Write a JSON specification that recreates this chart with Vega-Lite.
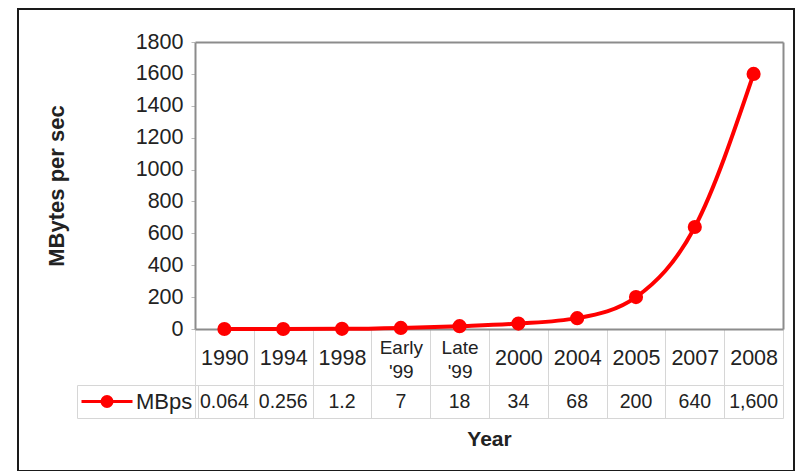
{
  "$schema": "https://vega.github.io/schema/vega-lite/v6.json",
  "width": 776,
  "height": 462,
  "autosize": {"type": "none"},
  "padding": {"left": 18, "top": 9, "right": 6, "bottom": 0},
  "background": "white",
  "view": {"stroke": "#1a1a1a", "strokeWidth": 2, "fill": "white"},
  "config": {"font": "Liberation Sans"},
  "data": {
    "values": [
      {"cat": "1990", "mbps": 0.064, "series": "MBps"},
      {"cat": "1994", "mbps": 0.256, "series": "MBps"},
      {"cat": "1998", "mbps": 1.2, "series": "MBps"},
      {"cat": "Early '99", "mbps": 7, "series": "MBps"},
      {"cat": "Late '99", "mbps": 18, "series": "MBps"},
      {"cat": "2000", "mbps": 34, "series": "MBps"},
      {"cat": "2004", "mbps": 68, "series": "MBps"},
      {"cat": "2005", "mbps": 200, "series": "MBps"},
      {"cat": "2007", "mbps": 640, "series": "MBps"},
      {"cat": "2008", "mbps": 1600, "series": "MBps"}
    ]
  },
  "resolve": {
    "scale": {"y": "independent"},
    "axis": {"x": "independent", "y": "independent"}
  },
  "layer": [
    {
      "mark": {"type": "line", "interpolate": "monotone", "strokeWidth": 4},
      "encoding": {
        "x": {
          "field": "cat", "type": "nominal", "sort": null,
          "scale": {"range": [177, 765], "paddingInner": 0, "paddingOuter": 0},
          "axis": {
            "orient": "bottom", "offset": -142, "title": null, "grid": false,
            "domainColor": "#8c8c8c", "domainWidth": 2,
            "tickBand": "extent", "tickSize": 56, "tickColor": "#d6d6d6", "tickWidth": 1,
            "labelAngle": 0, "labelBaseline": "middle",
            "labelPadding": {"condition": {"test": "indexof(datum.value + '', ' ') > 0", "value": -38}, "value": -27},
            "labelFontSize": {"condition": {"test": "indexof(datum.value + '', ' ') > 0", "value": 19}, "value": 21.5},
            "labelLineHeight": 24, "labelColor": "#222", "labelOverlap": false,
            "labelExpr": "indexof(datum.label + '', ' ') > 0 ? split(datum.label + '', ' ') : datum.label"
          }
        },
        "y": {
          "field": "mbps", "type": "quantitative",
          "scale": {"domain": [0, 1800], "range": [320, 33], "nice": false},
          "axis": {
            "orient": "left", "offset": -177, "grid": false,
            "values": [0, 200, 400, 600, 800, 1000, 1200, 1400, 1600, 1800], "format": "d",
            "domainColor": "#8c8c8c", "domainWidth": 2,
            "tickColor": "#bbbbbb", "tickSize": 4, "labelPadding": 8,
            "labelFontSize": 21.5, "labelColor": "#222",
            "title": "MBytes per sec", "titleFontSize": 22, "titleFontWeight": "bold",
            "titleColor": "#222", "titlePadding": 67
          }
        },
        "color": {
          "field": "series", "type": "nominal",
          "scale": {"range": ["#ff0000"]},
          "legend": {
            "orient": "none", "legendX": 59, "legendY": 376, "title": null,
            "symbolType": "M-2.55,0H2.55M-0.5,0A0.5,0.5,0,1,1,0.5,0A0.5,0.5,0,1,1,-0.5,0",
            "symbolSize": 400, "symbolOffset": 13.5, "symbolStrokeWidth": 3,
            "symbolFillColor": "#ff0000", "symbolStrokeColor": "#ff0000",
            "labelFontSize": 22, "labelColor": "#222", "labelOffset": 17.5,
            "strokeColor": "#d6d6d6", "padding": 5,
            "encode": {
              "symbols": {
                "update": {
                  "fill": {"value": "#ff0000"},
                  "stroke": {"value": "#ff0000"},
                  "strokeWidth": {"value": 3},
                  "opacity": {"value": 1}
                }
              }
            }
          }
        }
      }
    },
    {
      "mark": {"type": "point", "filled": true, "size": 200, "opacity": 1},
      "encoding": {
        "x": {
          "field": "cat", "type": "nominal", "sort": null,
          "scale": {"range": [177, 765], "paddingInner": 0, "paddingOuter": 0},
          "axis": {
            "orient": "top", "offset": -33, "title": null, "grid": false,
            "domainColor": "#8c8c8c", "domainWidth": 2, "ticks": false, "labels": false
          }
        },
        "y": {
          "field": "mbps", "type": "quantitative",
          "scale": {"domain": [0, 1800], "range": [320, 33], "nice": false},
          "axis": {
            "orient": "right", "offset": -11, "title": null, "grid": false,
            "domainColor": "#8c8c8c", "domainWidth": 2, "ticks": false, "labels": false
          }
        },
        "color": {"field": "series", "type": "nominal", "scale": {"range": ["#ff0000"]}}
      }
    },
    {
      "mark": {"type": "text", "fontSize": 19.5, "color": "#222"},
      "encoding": {
        "x": {
          "field": "cat", "type": "nominal", "sort": null,
          "scale": {"range": [177, 765], "paddingInner": 0, "paddingOuter": 0},
          "axis": {
            "orient": "bottom", "offset": -86, "domain": false, "grid": false,
            "tickBand": "extent", "tickSize": 33, "tickColor": "#d6d6d6", "tickWidth": 1,
            "labels": false,
            "title": "Year", "titleFontSize": 21, "titleFontWeight": "bold",
            "titleColor": "#222", "titlePadding": 10
          }
        },
        "y": {
          "field": "series", "type": "nominal",
          "scale": {"range": [376, 409], "paddingInner": 0, "paddingOuter": 0},
          "axis": {
            "orient": "left", "grid": true, "tickBand": "extent",
            "gridColor": "#d6d6d6", "gridWidth": 1,
            "domain": false, "ticks": false, "labels": false, "title": null
          }
        },
        "text": {"field": "mbps", "type": "quantitative", "format": ","}
      }
    }
  ]
}
